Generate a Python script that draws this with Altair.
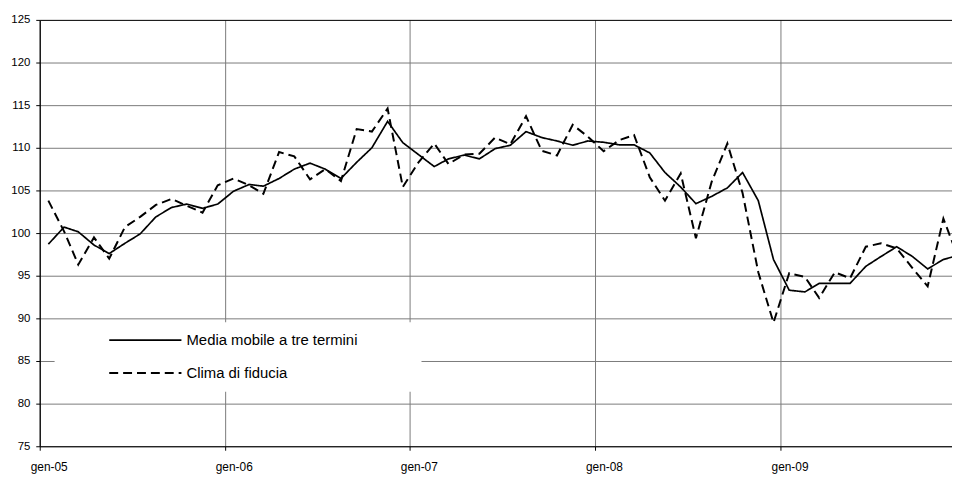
import altair as alt
import pandas as pd

# ---- data ----
year_labels = ["gen-05", "gen-06", "gen-07", "gen-08", "gen-09"]
series_names = ["Media mobile a tre termini", "Clima di fiducia"]

media_mobile = [98.7, 100.7, 100.15, 98.6, 97.6, 98.8, 99.9, 101.9, 103.0, 103.4, 102.9, 103.4,
                104.9, 105.7, 105.5, 106.4, 107.5, 108.2, 107.5, 106.4, 108.3, 110.0, 113.1, 110.6,
                109.2, 107.8, 108.7, 109.15, 108.7, 109.9, 110.3, 111.9, 111.2, 110.8, 110.3, 110.8,
                110.65, 110.35, 110.35, 109.4, 107.1, 105.4, 103.45, 104.3, 105.3, 107.1, 103.8, 96.9,
                93.3, 93.1, 94.1, 94.1, 94.1, 96.1, 97.25, 98.4, 97.25, 95.8, 96.9, 97.4]

clima_fiducia = [103.8, 100.2, 96.3, 99.5, 97.0, 100.7, 101.9, 103.3, 104.0, 103.2, 102.4, 105.6,
                 106.4, 105.6, 104.6, 109.5, 109.0, 106.3, 107.5, 106.1, 112.2, 111.9, 114.6, 105.4,
                 108.3, 110.5, 108.1, 109.2, 109.3, 111.2, 110.4, 113.7, 109.65, 109.1, 112.7, 111.3,
                 109.6, 110.9, 111.5, 106.55, 103.8, 107.0, 99.4, 106.0, 110.5, 104.7, 95.4, 89.5,
                 95.3, 94.85, 92.4, 95.4, 94.7, 98.4, 98.8, 98.2, 95.9, 93.75, 101.7, 97.0]

# monthly observations (plotted mid-month, as in the source chart)
dates = pd.date_range("2005-01-01", periods=60, freq="MS") + pd.Timedelta(days=17)
date_str = [d.strftime("%Y-%m-%d") for d in dates]

df = pd.concat([
    pd.DataFrame({"data": date_str, "valore": media_mobile, "serie": series_names[0]}),
    pd.DataFrame({"data": date_str, "valore": clima_fiducia, "serie": series_names[1]}),
])

FONT = "Liberation Sans"
labels_js = "[" + ",".join("'%s'" % s for s in year_labels) + "]"

x_enc = alt.X(
    "data:T",
    scale=alt.Scale(domain=[alt.DateTime(year=2005, month=1, date=1, utc=True),
                            alt.DateTime(year=2009, month=12, date=5, utc=True)],
                    type="utc", nice=False),
    axis=alt.Axis(
        title=None,
        values=[alt.DateTime(year=y, month=1, date=1, utc=True) for y in range(2005, 2010)],
        labelExpr=labels_js + "[utcyear(datum.value) - 2005]",
        grid=True, gridColor="#7a7a7a", gridWidth=1,
        domainColor="black", domainWidth=1.2,
        tickColor="black", tickSize=4,
        labelFont=FONT, labelFontSize=12, labelColor="black",
        labelPadding=11, labelOffset=9, labelAngle=0, labelFlush=False,
    ),
)

y_enc = alt.Y(
    "valore:Q",
    scale=alt.Scale(domain=[75, 125], nice=False, zero=False),
    axis=alt.Axis(
        title=None,
        values=list(range(75, 126, 5)),
        grid=True,
        gridColor={"condition": {"test": "datum.value === 125", "value": "black"}, "value": "#7a7a7a"},
        gridWidth=1,
        domainColor="black", domainWidth=1.2,
        tickColor="black", tickSize=4,
        labelFont=FONT, labelFontSize=11.5, labelColor="black",
        labelPadding=6,
    ),
)

lines = alt.Chart(df).mark_line(clip=True, color="black").encode(
    x=x_enc,
    y=y_enc,
    strokeDash=alt.StrokeDash(
        "serie:N",
        scale=alt.Scale(domain=series_names, range=[[1, 0], [9, 5]]),
        legend=alt.Legend(
            title=None, orient="none", legendX=69, legendY=313,
            symbolType="stroke", symbolSize=5300, symbolStrokeWidth=2,
            symbolStrokeColor="black", labelFont=FONT, labelFontSize=15,
            labelColor="black", labelOffset=4, rowPadding=13, padding=0,
            clipHeight=20, labelLimit=400,
        ),
    ),
    strokeWidth=alt.StrokeWidth(
        "serie:N",
        scale=alt.Scale(domain=series_names, range=[1.7, 2.0]),
        legend=None,
    ),
    order=alt.Order("data:T"),
)

legend_box = alt.Chart(pd.DataFrame({"k": [0]})).mark_rect(color="white").encode(
    x=alt.value(15), x2=alt.value(385), y=alt.value(305), y2=alt.value(375)
)

chart = alt.layer(legend_box, lines).properties(
    width=920, height=430,
    padding={"left": 32, "top": 10, "right": 0, "bottom": 28},
    autosize=alt.AutoSizeParams(type="none"),
).configure_view(stroke=None).configure(background="white")

chart.save("out.html", embed_options={"renderer": "svg", "actions": False})
